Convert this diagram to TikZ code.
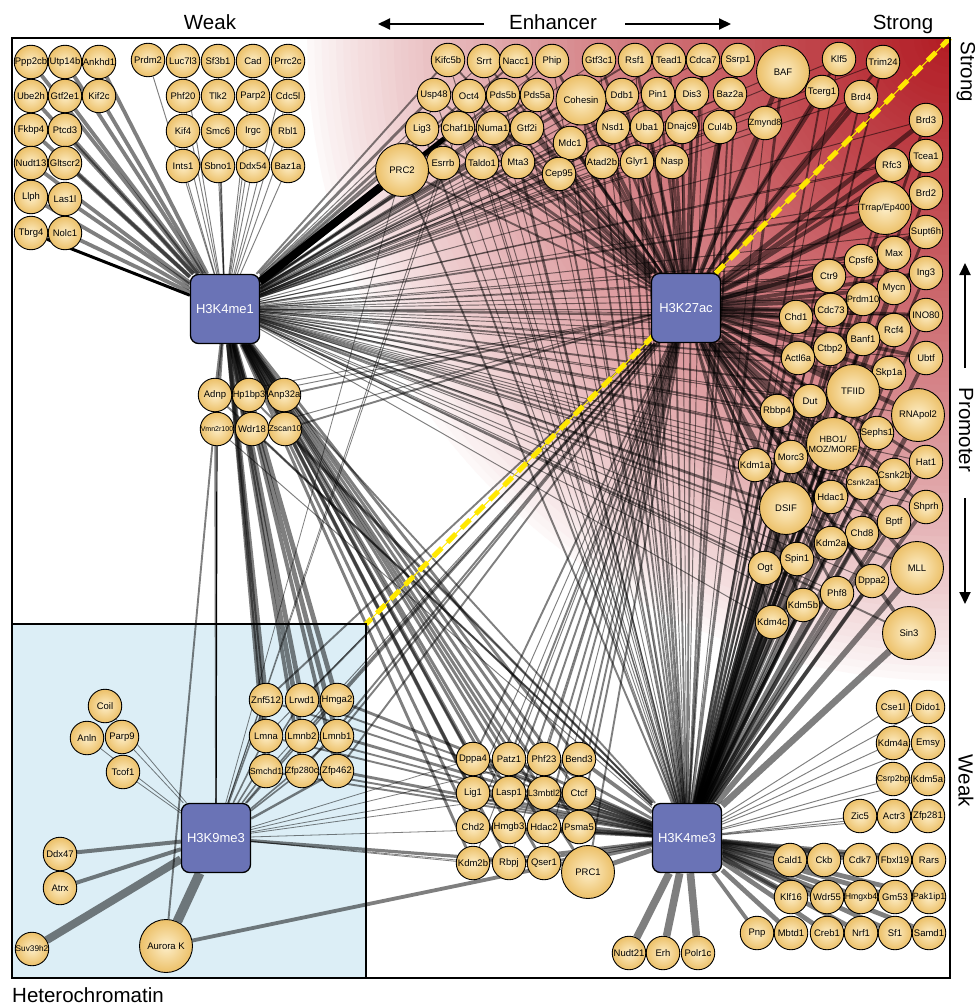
\documentclass[tikz,border=0pt]{standalone}
\usepackage{fontspec}
\setmainfont{Liberation Sans}
\usepackage{graphicx}
\usetikzlibrary{arrows.meta}
\pgfdeclarelayer{bg}
\pgfdeclarelayer{edges}
\pgfdeclarelayer{yel}
\pgfsetlayers{bg,edges,yel,main}
\definecolor{myred}{RGB}{178,28,36}
\definecolor{hubblue}{RGB}{106,115,182}
\definecolor{nodein}{RGB}{253,238,200}
\definecolor{nodeout}{RGB}{236,192,104}
\definecolor{hetblue}{RGB}{220,238,246}
\definecolor{ycol}{RGB}{255,232,0}
\newsavebox\lblbox
\newcommand\fitlbl[1]{\sbox\lblbox{#1}\ifdim\wd\lblbox>32.5pt\makebox[0pt]{\resizebox{32.5pt}{!}{\usebox\lblbox}}\else\makebox[0pt]{\usebox\lblbox}\fi}
\begin{document}
\begin{tikzpicture}[x=1pt,y=-1pt,
  sn/.style={circle,draw=black,line width=0.9pt,inner color=nodein,outer color=nodeout,minimum size=33.5pt,inner sep=0pt,font=\fontsize{9.5}{10}\selectfont},
  bn/.style={sn,minimum size=53pt},
  hub/.style={rectangle,rounded corners=8pt,draw=black,line width=1.3pt,fill=hubblue,minimum size=69pt,inner sep=0pt,text=white,font=\fontsize{13}{15}\selectfont},
  edg/.style={draw=black,draw opacity=0.5},
  blk/.style={draw=black},
  lab/.style={font=\fontsize{20.5}{24}\selectfont,inner sep=0pt},
  arr/.style={line width=2pt,-{Triangle[length=12pt,width=11pt]}},
]
\useasboundingbox (0,0) rectangle (978,1006);
\coordinate (yA) at (950,38);
\coordinate (yB) at (366,624);

% background
\begin{pgfonlayer}{bg}
\begin{scope}
\clip (12,38) rectangle (950,978);
\foreach \i in {0,...,89}{
  \pgfmathsetmacro\r{650*(1-\i/90)}
  \pgfmathtruncatemacro\p{round(100*(\i/89)^0.8)}
  \fill[myred!\p!white] (yA) circle[radius=\r pt];
}
\end{scope}
\fill[hetblue] (12,624) rectangle (366,978);
\end{pgfonlayer}

% hubs
\node[hub] (me1) at (225,309) {H3K4me1};
\node[hub] (k27) at (686,308) {H3K27ac};
\node[hub] (k9) at (216,838) {H3K9me3};
\node[hub] (me3) at (687,838) {H3K4me3};

% small nodes
\foreach \n/\x/\y in {
 Ppp2cb/31/62, Utp14b/65/62, Ankhd1/99/62, Ube2h/31/96, Gtf2e1/65/96, Kif2c/99/96,
 Fkbp4/31/130, Ptcd3/65/130, Nudt13/31/163, Gltscr2/65/163, Llph/31/197, Las1l/65/199,
 Tbrg4/31/233, Nolc1/65/233,
 Prdm2/148/60, Luc7l3/183/61, Sf3b1/218/61, Cad/253/61, Prrc2c/288/61,
 Phf20/183/96, Tlk2/218/96, Parp2/253/96, Cdc5l/288/96,
 Kif4/183/131, Smc6/218/131, Irgc/253/131, Rbl1/288/131,
 Ints1/183/166, Sbno1/218/166, Ddx54/253/166, Baz1a/288/166,
 Kifc5b/448/60, Srrt/484/61, Nacc1/516/61, Phip/552/61,
 Gtf3c1/599/60, Rsf1/635/60, Tead1/669/60, Cdca7/703/60, Ssrp1/738/60,
 Usp48/434/95, Oct4/469/96, Pds5b/503/95, Pds5a/537/95,
 Ddb1/622/95, Pin1/658/94, Dis3/692/94, Baz2a/730/94,
 Lig3/422/129, Chaf1b/458/128, Numa1/493/128, Gtf2i/527/128, Mdc1/570/143,
 Nsd1/613/127, Uba1/647/127, Dnajc9/682/127, Cul4b/720/127,
 Esrrb/443/163, Taldo1/482/163, Mta3/518/162, Cep95/559/174,
 Atad2b/602/162, Glyr1/637/162, Nasp/672/162,
 Klf5/839/59, Trim24/883/62, Tcerg1/822/92, Brd4/861/97, Zmynd8/765/123,
 Brd3/926/120, Tcea1/926/156, Rfc3/892/165, Brd2/926/193, Supt6h/926/232,
 Max/894/253, Cpsf6/861/261, Ing3/926/273, Ctr9/829/276, Mycn/894/288,
 Prdm10/863/299, Cdc73/831/310, Chd1/796/317, INO80/926/315,
 Rcf4/894/330, Banf1/863/339, Ctbp2/830/349, Actl6a/798/358, Ubtf/926/358, Skp1a/889/373,
 Dut/810/401, Rbbp4/777/411, Sephs1/877/433,
 Morc3/791/457, Kdm1a/755/465, Hat1/926/462, Csnk2b/894/475, Csnk2a1/863/483,
 Hdac1/831/497, Shprh/926/507, Bptf/894/522, Chd8/862/533, Kdm2a/831/543,
 Ogt/765/568, Spin1/797/559, Dppa2/872/581, Phf8/837/593, Kdm5b/803/605, Kdm4c/772/622,
 Adnp/215/395, Hp1bp3/249/395, Anp32a/284/395, Vmn2r100/217/429, Wdr18/252/429, Zscan10/285/429,
 Znf512/266/700, Lrwd1/302/700, Hmga2/337/700, Lmna/266/736, Lmnb2/302/736, Lmnb1/337/736,
 Smchd1/266/771, Zfp280c/302/771, Zfp462/337/771,
 Coil/105/706, Anln/87/738, Parp9/122/737, Tcof1/123/772,
 Ddx47/60/854, Atrx/60/888, Suv39h2/32/949,
 Dppa4/473/759, Patz1/509/759, Phf23/544/759, Bend3/579/759,
 Lig1/473/793, Lasp1/509/793, L3mbtl2/544/793, Ctcf/579/793,
 Chd2/473/827, Hmgb3/509/827, Hdac2/544/827, Psma5/579/827,
 Kdm2b/473/863, Rbpj/509/863, Qser1/544/863,
 Cse1l/893/707, Dido1/928/707, Kdm4a/893/743, Emsy/928/743, Csrp2bp/893/779, Kdm5a/928/779,
 Zic5/860/816, Actr3/894/816, Zfp281/928/816,
 Cald1/790/860, Ckb/824/860, Cdk7/860/860, Fbxl19/895/860, Rars/929/860,
 Klf16/791/897, Wdr55/827/897, Hmgxb4/861/897, Gm53/895/897, Pak1ip1/929/897,
 Pnp/757/933, Mbtd1/791/933, Creb1/827/933, Nrf1/861/933, Sf1/895/933, Samd1/929/933,
 Nudt21/629/953, Erh/663/953, Polr1c/698/953}
 {\node[sn] (\n) at (\x,\y) {\fitlbl{\n}};}

% big nodes
\node[bn,minimum size=50pt] (Cohesin) at (581,100) {\makebox[0pt]{Cohesin}};
\node[bn] (PRC2) at (402,170) {\makebox[0pt]{PRC2}};
\node[bn] (BAF) at (783,72) {\makebox[0pt]{BAF}};
\node[bn] (Trrap) at (885,208) {\makebox[0pt]{\fontsize{9}{10}\selectfont Trrap/Ep400}};
\node[bn] (TFIID) at (853,391) {\makebox[0pt]{TFIID}};
\node[bn] (RNApol2) at (918,415) {\makebox[0pt]{RNApol2}};
\node[bn] (HBO1) at (833,444) {\makebox[0pt]{\fontsize{9}{10.5}\selectfont\shortstack{HBO1/\\MOZ/MORF}}};
\node[bn] (DSIF) at (786,508) {\makebox[0pt]{DSIF}};
\node[bn] (MLL) at (917,568) {\makebox[0pt]{MLL}};
\node[bn] (Sin3) at (909,633) {\makebox[0pt]{Sin3}};
\node[bn] (AuroraK) at (166,946) {\makebox[0pt]{Aurora K}};
\node[bn] (PRC1) at (588,872) {\makebox[0pt]{PRC1}};

% edges
\begin{pgfonlayer}{edges}
\foreach \n/\a/\b/\c/\d in {
 Ppp2cb/4/0/0/0, Utp14b/4/0/0/0, Ankhd1/4/0/0/0, Ube2h/4/0/0/0, Gtf2e1/4/0/0/0, Kif2c/4/0/0/0,
 Fkbp4/4/0/0/0, Ptcd3/4/0/0/0, Nudt13/4/0/0/0, Gltscr2/4/0/0/0, Llph/4/0/0/0, Las1l/4/0/0/0, Nolc1/4/0/0/0,
 Prdm2/1/0/0/0, Luc7l3/1/0/0/0, Sf3b1/1/0/0/0, Cad/1/0/0/0, Prrc2c/1/0/0/0,
 Phf20/1/0/0/0, Tlk2/1/0/0/0, Parp2/1/0/0/0, Cdc5l/1/0/0/0,
 Kif4/1/0/0/0, Smc6/1/0/0/0, Irgc/1/0/0/0, Rbl1/1/0/0/0,
 Ints1/1/0/0/0, Sbno1/1/0/0/0, Ddx54/1/0/0/0, Baz1a/1/0/0/0,
 Kifc5b/2/2/1/0, Srrt/1/2/1/0, Nacc1/2/2/0/0, Phip/1/3/1/0, Gtf3c1/1/3/1/0, Rsf1/2/3/1/0,
 Tead1/1/3/0/0, Cdca7/1/3/1/0, Ssrp1/1/3/2/0, Usp48/3/2/1/0, Oct4/2/3/1/1, Pds5b/2/3/1/0,
 Pds5a/2/3/1/0, Cohesin/3/4/2/0, Ddb1/1/3/2/0, Pin1/1/3/1/0, Dis3/1/3/2/0, Baz2a/1/4/2/0,
 Lig3/3/2/2/0, Chaf1b/0/2/1/0, Numa1/2/3/1/0, Gtf2i/2/3/1/0, Mdc1/2/3/2/0, Nsd1/1/3/2/0,
 Uba1/1/3/2/0, Dnajc9/1/3/1/0, Cul4b/1/4/2/0, PRC2/0/2/2/1, Esrrb/3/2/1/1, Taldo1/2/3/1/0,
 Mta3/2/3/2/0, Cep95/2/3/2/0, Atad2b/1/3/2/0, Glyr1/1/3/2/0, Nasp/1/3/2/0, BAF/1/5/3/0,
 Klf5/1/3/1/0, Trim24/1/3/2/0, Tcerg1/1/4/2/0, Brd4/1/5/2/0, Zmynd8/1/3/1/0,
 Brd3/1/5/3/0, Tcea1/1/4/3/0, Rfc3/1/5/2/0, Brd2/1/5/3/0, Trrap/2/5/4/0, Supt6h/1/4/3/0,
 Max/1/4/3/0, Cpsf6/1/4/3/0, Ing3/1/4/3/0, Ctr9/1/4/2/0, Mycn/1/4/3/0, Prdm10/1/4/3/0,
 Cdc73/1/4/3/0, Chd1/2/4/3/0, INO80/1/4/3/0, Rcf4/1/4/3/0, Banf1/1/4/3/0, Ctbp2/1/4/3/0,
 Actl6a/2/3/3/0, Ubtf/1/4/4/0, Skp1a/1/4/3/0, TFIID/2/5/5/0, Dut/1/2/3/0, Rbbp4/2/2/3/0,
 RNApol2/1/5/5/0, Sephs1/1/3/3/0, HBO1/2/5/4/0, Morc3/1/2/3/0, Kdm1a/2/3/3/0, Hat1/1/3/4/0,
 Csnk2b/1/3/4/0, Csnk2a1/1/3/3/0, Hdac1/2/3/4/0, DSIF/2/4/5/0, Shprh/1/3/4/0, Bptf/1/3/4/0,
 Chd8/1/3/4/0, Kdm2a/1/3/4/0, MLL/2/4/6/0, Ogt/1/2/4/0, Spin1/1/3/4/0, Dppa2/1/3/4/0,
 Phf8/1/3/4/0, Kdm5b/1/3/4/0, Kdm4c/1/2/4/0, Sin3/2/4/7/0,
 Adnp/3/1/2/2, Hp1bp3/3/1/2/0, Anp32a/3/2/2/0, Vmn2r100/2/0/1/0, Wdr18/3/1/2/0, Zscan10/3/2/2/0,
 Znf512/5/2/2/2, Lrwd1/5/2/2/2, Hmga2/5/2/3/2, Lmna/5/1/2/2, Lmnb2/5/2/2/2, Lmnb1/5/2/3/2,
 Smchd1/4/1/2/2, Zfp280c/4/2/2/2, Zfp462/4/2/3/3,
 Coil/0/0/0/1, Anln/0/0/0/1, Parp9/0/0/0/1, Tcof1/0/0/0/1,
 Ddx47/0/0/0/5, Atrx/0/0/0/5, Suv39h2/0/0/0/10, AuroraK/2/0/4/12,
 Dppa4/4/2/3/1, Patz1/3/2/3/0, Phf23/3/2/3/1, Bend3/3/2/4/0, Lig1/4/1/3/1, Lasp1/3/2/3/0,
 L3mbtl2/3/2/4/1, Ctcf/3/2/4/0, Chd2/3/1/3/0, Hmgb3/3/2/3/0, Hdac2/3/2/4/0, Psma5/3/2/4/1,
 Kdm2b/3/1/3/1, Rbpj/3/1/3/0, Qser1/3/1/3/4, PRC1/3/2/5/1,
 Cse1l/0/0/1/0, Dido1/0/0/1/0, Kdm4a/0/0/1/0, Emsy/0/0/1/0, Csrp2bp/0/0/1/0, Kdm5a/0/0/1/0,
 Zic5/0/0/1/0, Actr3/0/0/1/0, Zfp281/0/0/1/0,
 Cald1/0/0/5/0, Ckb/0/0/5/0, Cdk7/0/0/5/0, Fbxl19/0/0/5/0, Rars/0/0/5/0,
 Klf16/0/0/5/0, Wdr55/0/0/5/0, Hmgxb4/0/0/5/0, Gm53/0/0/5/0, Pak1ip1/0/0/5/0,
 Pnp/0/0/4/0, Mbtd1/0/0/5/0, Creb1/0/0/5/0, Nrf1/0/0/5/0, Sf1/0/0/5/0, Samd1/0/0/5/0,
 Nudt21/0/0/8/0, Erh/0/0/8/0, Polr1c/0/0/8/0}
{
 \ifnum\a>0 \pgfmathsetmacro\w{0.95*\a}\draw[edg,line width=\w pt] (me1) -- (\n);\fi
 \ifnum\b>0 \pgfmathsetmacro\w{0.95*\b}\draw[edg,line width=\w pt] (k27) -- (\n);\fi
 \ifnum\c>0 \pgfmathsetmacro\w{0.95*\c}\draw[edg,line width=\w pt] (me3) -- (\n);\fi
 \ifnum\d>0 \pgfmathsetmacro\w{0.8*\d}\draw[edg,line width=\w pt] (k9) -- (\n);\fi
}
\draw[blk,line width=8pt] (me1) -- (PRC2);
\draw[blk,line width=5pt] (me1) -- (Chaf1b);
\draw[blk,line width=3pt] (me1) -- (Tbrg4);
\draw[blk,line width=1.2pt] (k9) -- (Vmn2r100);
\end{pgfonlayer}

% yellow diagonal
\begin{pgfonlayer}{yel}
\draw[ycol,line width=1pt] (yA) -- (yB);
\draw[ycol,line width=5pt,dash pattern=on 12pt off 8pt] (yA) -- (yB);
\end{pgfonlayer}

% frames
\draw[line width=1.5pt] (12,624) rectangle (366,978);
\draw[line width=1.8pt] (12,38) rectangle (950,978);

% labels
\node[lab,anchor=base] (tWeak) at (210,30) {Weak};
\node[lab,anchor=base] (tEnh) at (553,30) {Enhancer};
\node[lab,anchor=base] (tStrong) at (903,30) {Strong};
\coordinate (aL1) at (484,24); \coordinate (aL2) at (378,24);
\coordinate (aR1) at (625,24); \coordinate (aR2) at (731,24);
\draw[arr] (aL1) -- (aL2);
\draw[arr] (aR1) -- (aR2);
\node[lab,rotate=-90] (rStrong) at (966,72) {Strong};
\node[lab,rotate=-90] (rProm) at (966,430) {Promoter};
\node[lab,rotate=-90] (rWeak) at (966,781) {Weak};
\coordinate (aU1) at (965,368); \coordinate (aU2) at (965,263);
\coordinate (aD1) at (965,498); \coordinate (aD2) at (965,604);
\draw[arr] (aU1) -- (aU2);
\draw[arr] (aD1) -- (aD2);
\node[lab,anchor=base west,text depth=0pt] (tHet) at (12,1002) {Heterochromatin};
\end{tikzpicture}
\end{document}
